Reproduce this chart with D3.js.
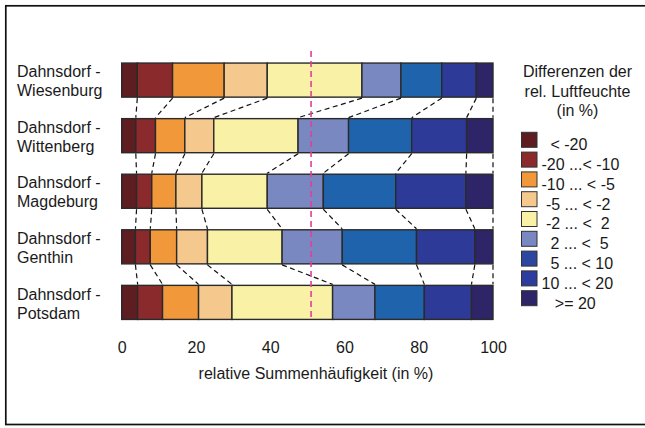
<!DOCTYPE html>
<html>
<head>
<meta charset="utf-8">
<script src="https://cdn.jsdelivr.net/npm/d3@7"></script>
<style>
  html, body { margin: 0; padding: 0; background: #fff; }
  svg { display: block; }
  text { font-family: "Liberation Sans", Arial, sans-serif; fill: #1a1a1a; }
</style>
</head>
<body>
<svg id="chart" width="645" height="428"></svg>
<script>
// Station pairs (first line / second line of each row label)
const stations = ["Wiesenburg", "Wittenberg", "Magdeburg", "Genthin", "Potsdam"];
const pairPrefix = "Dahnsdorf -";

// Difference classes of relative humidity (in %)
const classes = ["< -20", "-20 ...< -10", "-10 ... < -5", "-5 ... < -2", "-2 ... <  2",
                 "2 ... <  5", "5 ... < 10", "10 ... < 20", ">= 20"];
// leading blanks of the legend entries
const classIndent = [2, 0, 0, 1, 1, 2, 2, 0, 3];

// Share of each class per station pair (in %)
const wiesenburg = [4.2, 9.5, 13.9, 11.6, 25.5, 10.5, 11.0, 9.3, 4.5];
const wittenberg = [3.8, 5.3, 7.9, 7.8, 22.7, 13.6, 17.0, 14.8, 7.1];
const magdeburg  = [4.0, 4.1, 6.5, 7.0, 17.6, 15.1, 19.5, 18.9, 7.3];
const genthin    = [3.7, 4.0, 7.1, 8.3, 20.1, 16.2, 20.0, 15.7, 4.9];
const potsdam    = [4.3, 6.7, 9.7, 9.0, 27.1, 11.4, 13.3, 12.7, 5.8];
const shares = [wiesenburg, wittenberg, magdeburg, genthin, potsdam];

// Marker line for the 50 % level of the cumulative frequency
const markerValue = 51;

const xTicks = [0, 20, 40, 60, 80, 100];

const barColors    = ["#5e1d21", "#8b2a2d", "#f0983a", "#f5c98d", "#f9f1a5",
                      "#7a88c2", "#1f63ad", "#2e3a97", "#2d2567"];
const legendColors = ["#5e1d21", "#8b2a2d", "#f0983a", "#f5c98d", "#f9f1a5",
                      "#7a88c2", "#2c479f", "#2d3d9e", "#2d2567"];

const svg = d3.select("#chart");

// outer frame
svg.append("rect")
  .attr("x", 5.8).attr("y", 5.8).attr("width", 700).attr("height", 418.7)
  .attr("fill", "none").attr("stroke", "#111").attr("stroke-width", 1.7);

const x = d3.scaleLinear().domain([0, 100]).range([121.7, 493]);
const y = d3.scaleBand().domain(stations).range([52.5, 330]).paddingInner(0.387).paddingOuter(0.19);

// cumulative class boundaries per row
const keys = d3.range(classes.length);
const rows = stations.map((s, i) => {
  const o = { station: s };
  keys.forEach(k => o[k] = shares[i][k]);
  return o;
});
const stacked = d3.stack().keys(keys)(rows);

// bars
const g = svg.append("g");
stacked.forEach((layer, k) => {
  g.selectAll(null).data(layer).enter().append("rect")
    .attr("x", d => x(d[0]))
    .attr("y", d => y(d.data.station))
    .attr("width", d => x(d[1]) - x(d[0]))
    .attr("height", y.bandwidth())
    .attr("fill", barColors[k])
    .attr("stroke", "#2a2a2a")
    .attr("stroke-width", 1.4);
});

// dashed connectors between the class boundaries of neighbouring rows
const connectors = svg.append("g")
  .attr("stroke", "#111").attr("stroke-width", 1.2)
  .attr("stroke-dasharray", "5,3.5").attr("fill", "none");
for (let r = 0; r < stations.length - 1; r++) {
  stacked.forEach(layer => {
    const a = layer[r][1], b = layer[r + 1][1];
    connectors.append("line")
      .attr("x1", x(a)).attr("y1", y(stations[r]) + y.bandwidth() + 1)
      .attr("x2", x(b)).attr("y2", y(stations[r + 1]) - 1);
  });
}

// 50 % marker
svg.append("line")
  .attr("x1", x(markerValue)).attr("x2", x(markerValue))
  .attr("y1", 51).attr("y2", 321)
  .attr("stroke", "#e0409a").attr("stroke-width", 1.6)
  .attr("stroke-dasharray", "6,4");

// row labels
const labels = svg.append("g").attr("font-size", 16);
stations.forEach(s => {
  const t = labels.append("text").attr("x", 17).attr("y", y(s) + 14.2);
  t.append("tspan").attr("x", 17).text(pairPrefix);
  t.append("tspan").attr("x", 17).attr("dy", 19).text(s);
});

// x axis (labels only)
const axis = svg.append("g").attr("transform", "translate(0,353)")
  .call(d3.axisBottom(x).tickValues(xTicks).tickSize(0).tickPadding(0));
axis.select(".domain").remove();
axis.selectAll("text").attr("font-size", 16).attr("dy", 0)
  .attr("font-family", "'Liberation Sans', Arial, sans-serif").attr("fill", "#1a1a1a");

svg.append("text")
  .attr("x", 316).attr("y", 378.5).attr("text-anchor", "middle").attr("font-size", 16)
  .text("relative Summenhäufigkeit (in %)");

// legend
const legend = svg.append("g").attr("font-size", 16);
["Differenzen der", "rel. Luftfeuchte", "(in %)"].forEach((t, i) => {
  legend.append("text").attr("x", 577.5).attr("y", 77 + i * 19.7)
    .attr("text-anchor", "middle").text(t);
});
classes.forEach((c, i) => {
  const yy = 132.3 + i * 19.8;
  legend.append("rect")
    .attr("x", 521.5).attr("y", yy).attr("width", 15.5).attr("height", 15)
    .attr("fill", legendColors[i]).attr("stroke", "#333").attr("stroke-width", 1);
  legend.append("text").attr("x", 541.5).attr("y", yy + 17.8)
    .style("white-space", "pre")
    .text("\u00a0".repeat(classIndent[i]) + c);
});
</script>
</body>
</html>
